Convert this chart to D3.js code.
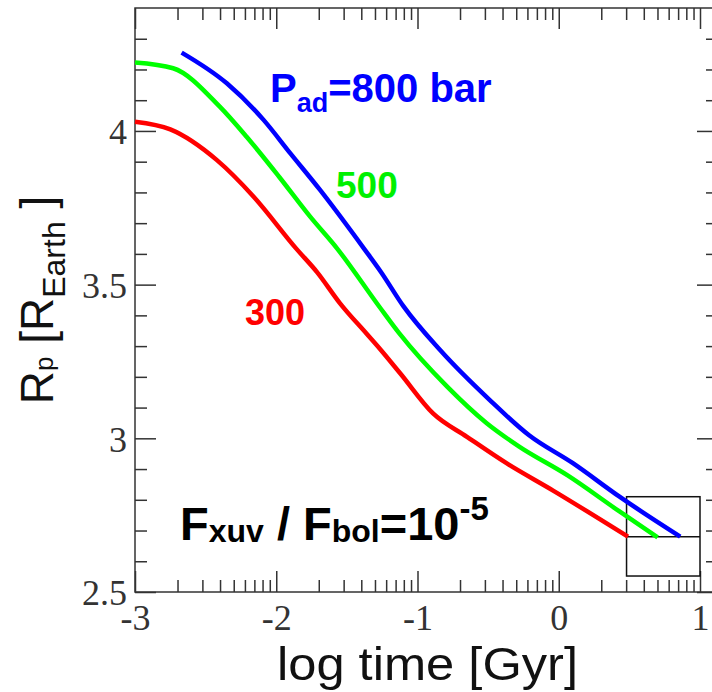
<!DOCTYPE html>
<html>
<head>
<meta charset="utf-8">
<script src="https://cdn.jsdelivr.net/npm/d3@7"></script>
<style>
    body { margin: 0; background: #fff; }
    svg { display: block; }
</style>
</head>
<body>
<svg id="chart"></svg>
<script>
// values (log time in Gyr, radius in Earth radii)
const time300 = [-3, -2.75, -2.42, -2.16, -1.86, -1.71, -1.55, -1.36, -1.27, -1.12, -0.89, -0.65, -0.37, -0.04, 0.49]
const rp300   = [4.03, 4.005, 3.905, 3.786, 3.618, 3.54, 3.44, 3.34, 3.293, 3.21, 3.081, 3.005, 2.919, 2.83, 2.68]

const time500 = [-3, -2.73, -2.40, -2.21, -1.98, -1.76, -1.57, -1.27, -1.13, -0.79, -0.51, -0.28, 0.06, 0.43, 0.70]
const rp500   = [4.223, 4.204, 4.079, 3.981, 3.851, 3.721, 3.618, 3.428, 3.342, 3.168, 3.049, 2.973, 2.88, 2.762, 2.678]

const time800 = [-2.67, -2.35, -2.09, -1.90, -1.69, -1.38, -1.26, -1.10, -0.84, -0.49, -0.21, 0.10, 0.43, 0.86]
const rp800   = [4.255, 4.155, 4.036, 3.927, 3.808, 3.618, 3.542, 3.43, 3.287, 3.125, 3.01, 2.919, 2.81, 2.68]

const xMajor = [-3, -2, -1, 0, 1]
const xTickLabels = ["-3", "-2", "-1", "0", "1"]
const yMajor = [2.5, 3, 3.5, 4]
const yTickLabels = ["2.5", "3", "3.5", "4"]

// inset frame in the lower right corner: [t0, t1], [r0, r1], middle line
const insetTime = [0.48, 1]
const insetRp = [2.552, 2.81]
const insetMid = 2.68

const width = 712
const height = 692
const margin = { left: 135, top: 8, right: 718, bottom: 592 }

const svg = d3.select('#chart')
    .attr('width', width)
    .attr('height', height)

const xscl = d3.scaleLinear()
    .domain([-3, 1])
    .range([margin.left, 700])
const xEnd = xscl.invert(margin.right)

const yscl = d3.scaleLinear()
    .domain([2.5, 4.4])
    .range([margin.bottom, margin.top])

// log-style minor ticks inside each decade
const xMinor = []
for (let dec = -3; dec < 1.2; dec++) {
    for (let n = 2; n <= 9; n++) {
        const v = dec + Math.log10(n)
        if (v < xEnd) xMinor.push(v)
    }
}
const yMinor = d3.range(26, 44).filter(d => d % 5 !== 0).map(d => d / 10)

const tickColor = '#333'
const majorLen = 21
const minorLen = 12

function styleAxis(g) {
    g.select('.domain').remove()
    g.selectAll('line').attr('stroke', tickColor).attr('stroke-width', 1.5)
    g.selectAll('text')
        .attr('fill', '#333')
        .style('font-family', '"Liberation Serif", "DejaVu Serif", serif')
        .style('font-size', '36px')
}

// bottom
svg.append('g')
    .attr('transform', `translate(0,${margin.bottom})`)
    .call(d3.axisBottom(xscl).tickValues(xMajor).tickSize(-majorLen).tickSizeOuter(0)
        .tickPadding(12).tickFormat((d, i) => xTickLabels[i]))
    .call(styleAxis)
svg.append('g')
    .attr('transform', `translate(0,${margin.bottom})`)
    .call(d3.axisBottom(xscl).tickValues(xMinor).tickSize(-minorLen).tickSizeOuter(0).tickFormat(''))
    .call(styleAxis)

// top
svg.append('g')
    .attr('transform', `translate(0,${margin.top})`)
    .call(d3.axisTop(xscl).tickValues(xMajor).tickSize(-majorLen).tickSizeOuter(0).tickFormat(''))
    .call(styleAxis)
svg.append('g')
    .attr('transform', `translate(0,${margin.top})`)
    .call(d3.axisTop(xscl).tickValues(xMinor).tickSize(-minorLen).tickSizeOuter(0).tickFormat(''))
    .call(styleAxis)

// left
svg.append('g')
    .attr('transform', `translate(${margin.left},0)`)
    .call(d3.axisLeft(yscl).tickValues(yMajor).tickSize(-majorLen).tickSizeOuter(0)
        .tickPadding(8).tickFormat((d, i) => yTickLabels[i]))
    .call(styleAxis)
    .selectAll('text').attr('dy', '0.36em')
svg.append('g')
    .attr('transform', `translate(${margin.left},0)`)
    .call(d3.axisLeft(yscl).tickValues(yMinor).tickSize(-minorLen).tickSizeOuter(0).tickFormat(''))
    .call(styleAxis)

// right (the frame edge sits just past the picture)
svg.append('g')
    .attr('transform', `translate(${margin.right},0)`)
    .call(d3.axisRight(yscl).tickValues(yMajor).tickSize(-majorLen).tickSizeOuter(0).tickFormat(''))
    .call(styleAxis)
svg.append('g')
    .attr('transform', `translate(${margin.right},0)`)
    .call(d3.axisRight(yscl).tickValues(yMinor).tickSize(-minorLen).tickSizeOuter(0).tickFormat(''))
    .call(styleAxis)

svg.append('rect')
    .attr('x', margin.left)
    .attr('y', margin.top)
    .attr('width', margin.right - margin.left)
    .attr('height', margin.bottom - margin.top)
    .attr('fill', 'none')
    .attr('stroke', tickColor)
    .attr('stroke-width', 1.5)

// inset box
svg.append('rect')
    .attr('x', xscl(insetTime[0]))
    .attr('y', yscl(insetRp[1]))
    .attr('width', xscl(insetTime[1]) - xscl(insetTime[0]))
    .attr('height', yscl(insetRp[0]) - yscl(insetRp[1]))
    .attr('fill', 'none')
    .attr('stroke', '#111')
    .attr('stroke-width', 1.5)
svg.append('line')
    .attr('x1', xscl(insetTime[0]))
    .attr('x2', xscl(insetTime[1]))
    .attr('y1', yscl(insetMid))
    .attr('y2', yscl(insetMid))
    .attr('stroke', '#111')
    .attr('stroke-width', 1.5)

// curves
const line = d3.line()
    .x(d => xscl(d[0]))
    .y(d => yscl(d[1]))
    .curve(d3.curveMonotoneX)

const series = [
    { t: time300, r: rp300, color: '#ff0000' },
    { t: time500, r: rp500, color: '#00ff00' },
    { t: time800, r: rp800, color: '#0000ff' },
]
series.forEach(s => {
    svg.append('path')
        .datum(d3.zip(s.t, s.r))
        .attr('fill', 'none')
        .attr('stroke', s.color)
        .attr('stroke-width', 4.5)
        .attr('stroke-linejoin', 'round')
        .attr('d', line)
})

// annotations
const sans = '"Liberation Sans", Arial, sans-serif'

const pad = svg.append('text')
    .attr('x', 270).attr('y', 102)
    .attr('fill', '#0000ff')
    .style('font-family', sans).style('font-weight', 'bold').style('font-size', '40px')
pad.append('tspan').text('P')
pad.append('tspan').attr('dy', 10).style('font-size', '27px').text('ad')
pad.append('tspan').attr('dy', -10).text('=800 bar')

svg.append('text')
    .attr('x', 336).attr('y', 198)
    .attr('fill', '#00f000')
    .style('font-family', sans).style('font-weight', 'bold').style('font-size', '37px')
    .text('500')

svg.append('text')
    .attr('x', 245).attr('y', 325)
    .attr('fill', '#ff0000')
    .style('font-family', sans).style('font-weight', 'bold').style('font-size', '36px')
    .text('300')

const flux = svg.append('text')
    .attr('x', 180).attr('y', 540)
    .attr('fill', '#000')
    .style('font-family', sans).style('font-weight', 'bold').style('font-size', '47px')
flux.append('tspan').text('F')
flux.append('tspan').attr('dy', 2).style('font-size', '32px').text('xuv')
flux.append('tspan').attr('dy', -2).text(' / F')
flux.append('tspan').attr('dy', 2).style('font-size', '32px').text('bol')
flux.append('tspan').attr('dy', -2).text('=10')
flux.append('tspan').attr('dy', -20).style('font-size', '33px').text('-5')

// axis titles
svg.append('text')
    .attr('x', 277).attr('y', 680)
    .attr('fill', '#111')
    .attr('textLength', 301)
    .attr('lengthAdjust', 'spacingAndGlyphs')
    .style('font-family', sans).style('font-size', '46px')
    .text('log time [Gyr]')

const ytitle = svg.append('text')
    .attr('transform', 'translate(53,300) rotate(-90)')
    .attr('text-anchor', 'middle')
    .attr('fill', '#111')
    .style('font-family', sans).style('font-size', '46px')
ytitle.append('tspan').text('R')
ytitle.append('tspan').style('font-size', '26px').text('p')
ytitle.append('tspan').text(' [R')
ytitle.append('tspan').attr('dy', 12).style('font-size', '32px').text('Earth')
ytitle.append('tspan').attr('dy', -12).text(' ]')
</script>
</body>
</html>
